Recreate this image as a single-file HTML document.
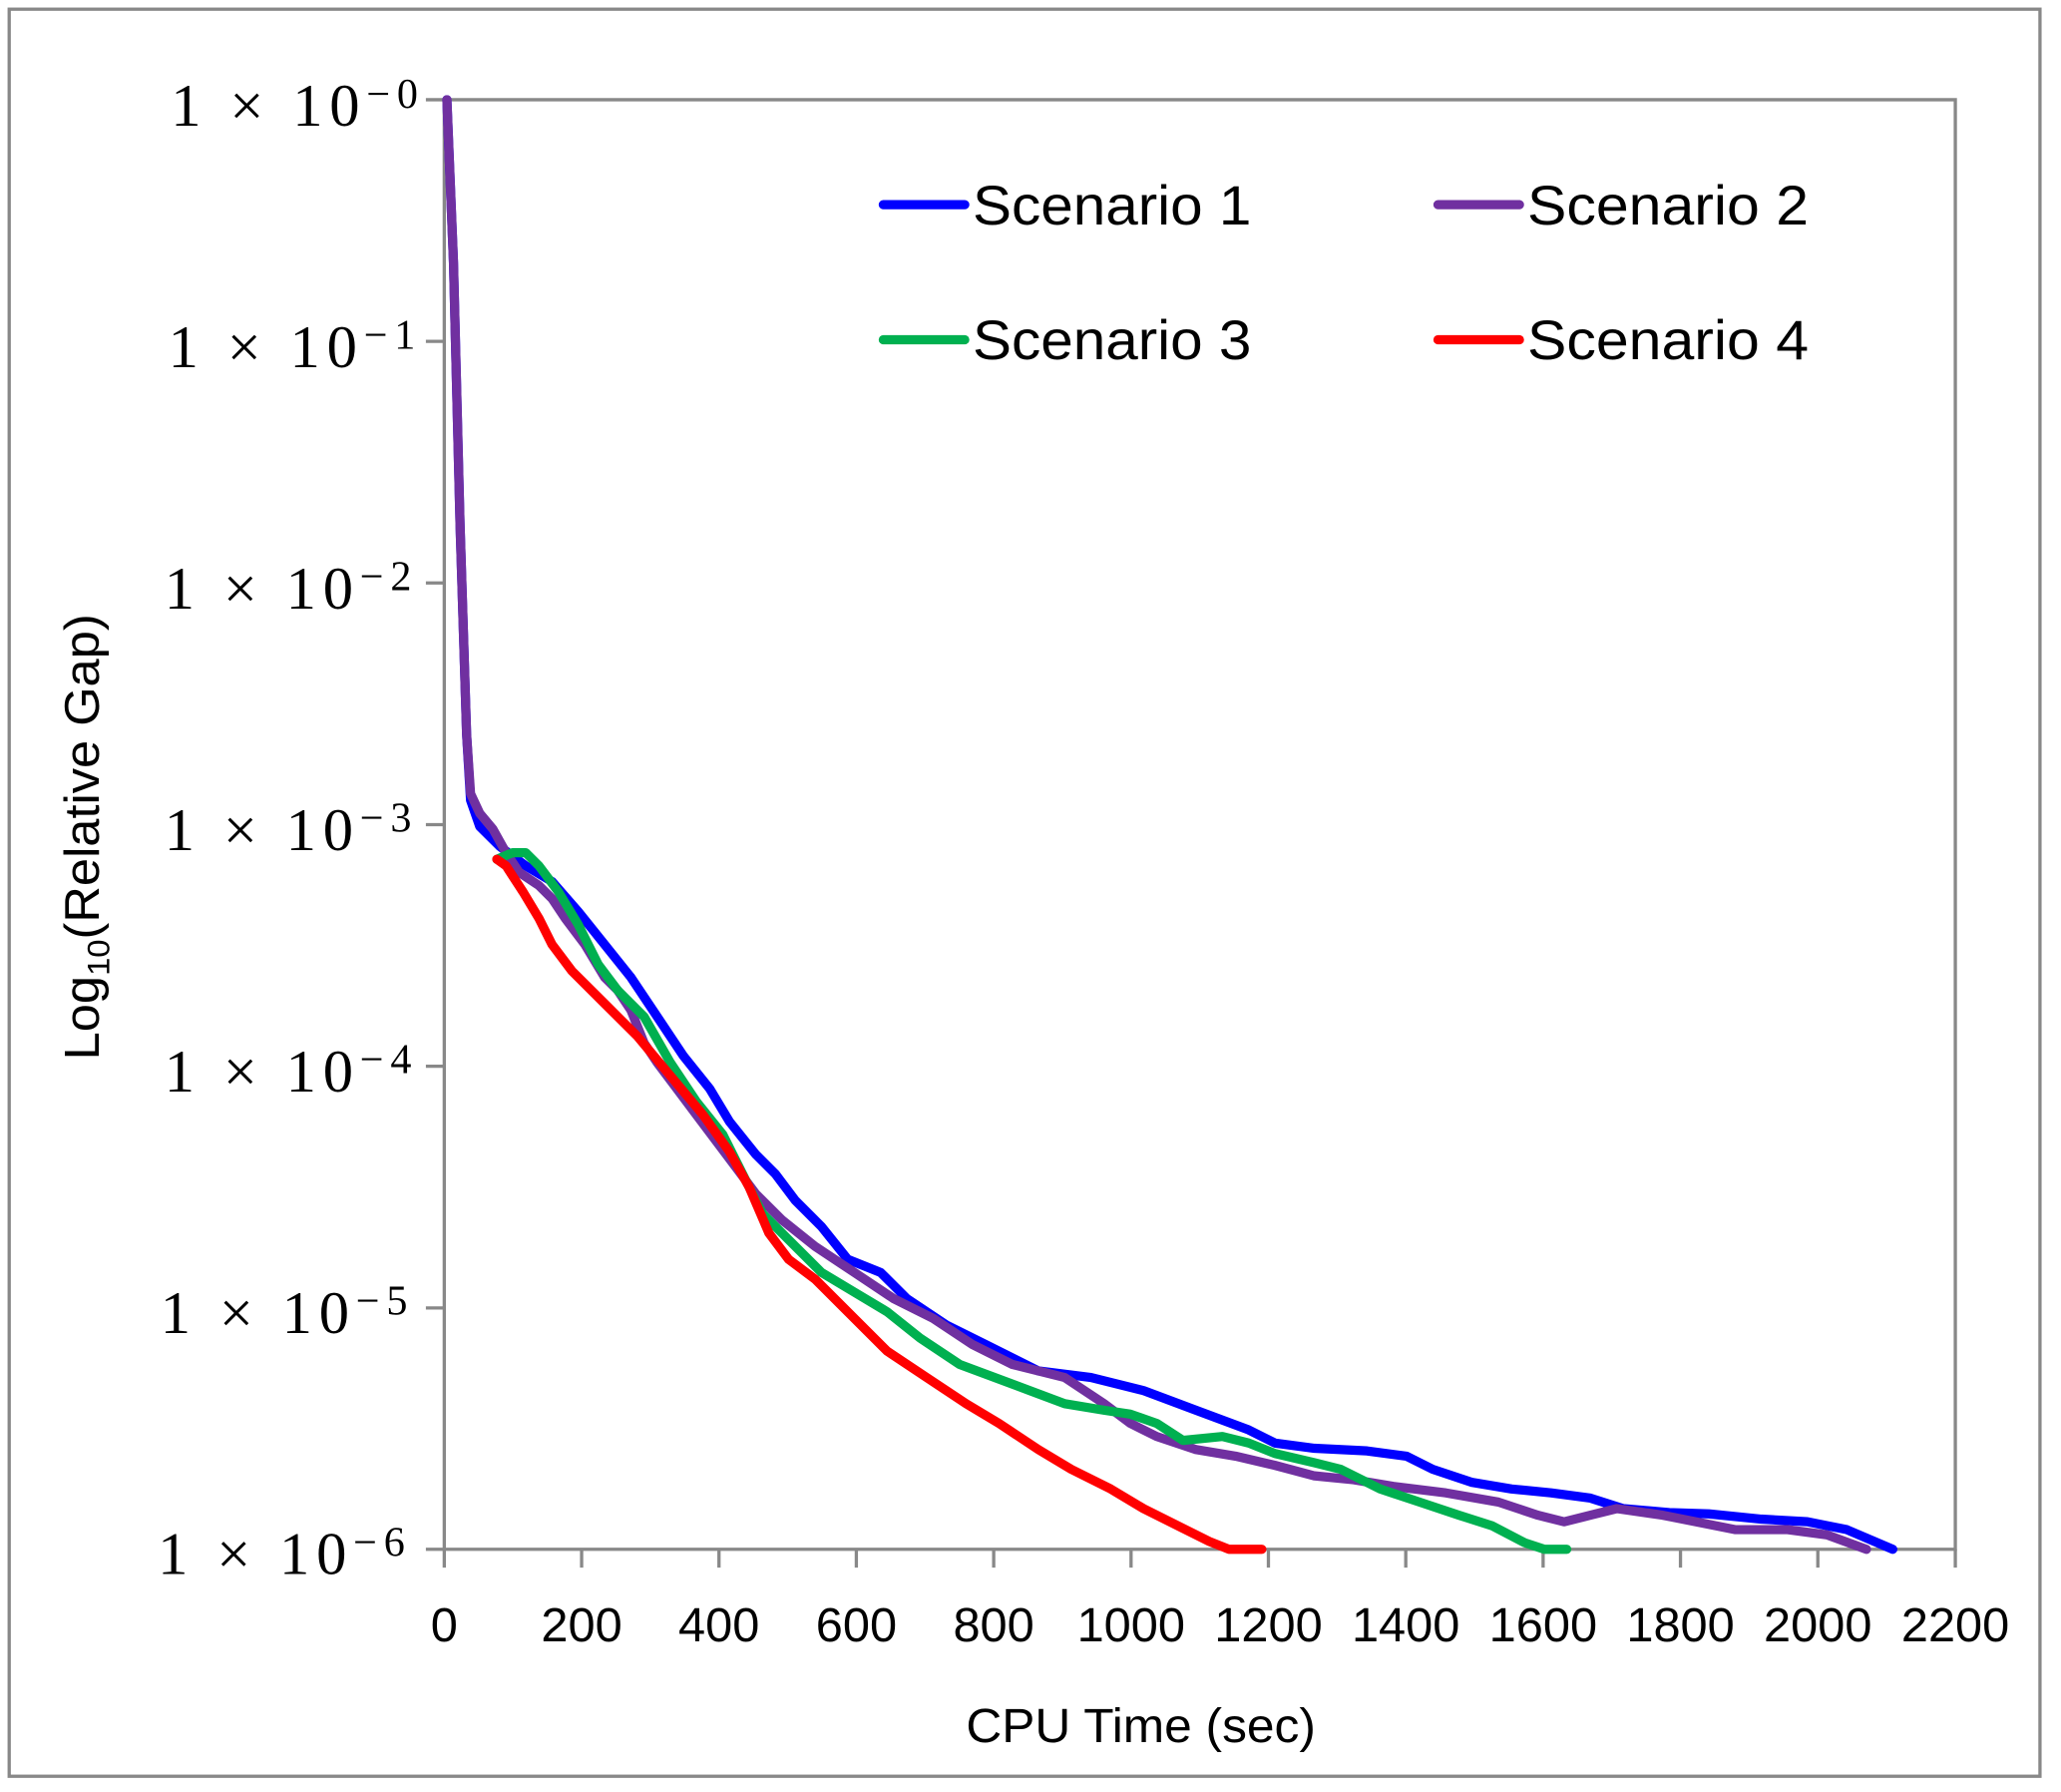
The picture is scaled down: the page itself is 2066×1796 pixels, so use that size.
<!DOCTYPE html>
<html><head><meta charset="utf-8"><style>html,body{margin:0;padding:0;background:#fff;}svg{display:block}</style></head>
<body>
<svg width="2066" height="1796" viewBox="0 0 1568 1366" preserveAspectRatio="none" xmlns="http://www.w3.org/2000/svg">
<rect x="7" y="7" width="1545" height="1347" fill="#fff" stroke="#888" stroke-width="2.5"/>
<g stroke="#888" stroke-width="2.5" fill="none">
<path d="M338 76 H1487.6 V1181 H338 Z"/>
<path d="M324 76H338M324 260.2H338M324 444.4H338M324 628.6H338M324 812.8H338M324 997H338M324 1181H338"/>
<path d="M338 1181V1195M442.5 1181V1195M547 1181V1195M651.5 1181V1195M756 1181V1195M860.5 1181V1195M965 1181V1195M1069.5 1181V1195M1174 1181V1195M1278.5 1181V1195M1383 1181V1195M1487.6 1181V1195"/>
</g>
<g font-family="Liberation Serif, serif" font-size="46" fill="#000" text-anchor="end">
<text x="318" y="96" textLength="188" lengthAdjust="spacing">1 × 10<tspan dy="-14" font-size="32">−0</tspan></text>
<text x="316" y="280" textLength="188" lengthAdjust="spacing">1 × 10<tspan dy="-14" font-size="32">−1</tspan></text>
<text x="313" y="464" textLength="188" lengthAdjust="spacing">1 × 10<tspan dy="-14" font-size="32">−2</tspan></text>
<text x="313" y="648" textLength="188" lengthAdjust="spacing">1 × 10<tspan dy="-14" font-size="32">−3</tspan></text>
<text x="313" y="832" textLength="188" lengthAdjust="spacing">1 × 10<tspan dy="-14" font-size="32">−4</tspan></text>
<text x="310" y="1016" textLength="188" lengthAdjust="spacing">1 × 10<tspan dy="-14" font-size="32">−5</tspan></text>
<text x="308" y="1200" textLength="188" lengthAdjust="spacing">1 × 10<tspan dy="-14" font-size="32">−6</tspan></text>
</g>
<g font-family="Liberation Sans, sans-serif" font-size="37" fill="#000" text-anchor="middle">
<text x="338" y="1251">0</text><text x="442.5" y="1251">200</text><text x="547" y="1251">400</text><text x="651.5" y="1251">600</text><text x="756" y="1251">800</text><text x="860.5" y="1251">1000</text><text x="965" y="1251">1200</text><text x="1069.5" y="1251">1400</text><text x="1174" y="1251">1600</text><text x="1278.5" y="1251">1800</text><text x="1383" y="1251">2000</text><text x="1487.6" y="1251">2200</text>
<text x="868" y="1328" textLength="266" lengthAdjust="spacingAndGlyphs">CPU Time (sec)</text>
<text transform="translate(75,638) rotate(-90)" textLength="340" lengthAdjust="spacingAndGlyphs">Log<tspan font-size="24" dy="8">10</tspan><tspan dy="-8">(Relative Gap)</tspan></text>
</g>
<g fill="none" stroke-width="7" stroke-linecap="round" stroke-linejoin="round">
<path stroke="#0000FF" d="M340 76 L345 200 L350 400 L355 560 L358 610 L365 630 L380 645 L400 660 L420 672 L440 695 L460 720 L480 745 L500 775 L520 805 L540 830 L555 855 L575 880 L590 895 L605 915 L625 935 L645 960 L670 970 L690 990 L720 1010 L750 1025 L790 1045 L830 1050 L870 1060 L910 1075 L950 1090 L970 1100 L1000 1104 L1040 1106 L1070 1110 L1090 1120 L1120 1130 L1150 1135 L1180 1138 L1210 1142 L1235 1150 L1270 1153 L1300 1154 L1340 1158 L1375 1160 L1405 1166 L1440 1181"/>
<path stroke="#7030A0" d="M340 76 L345 200 L350 400 L355 560 L358 605 L365 620 L375 632 L385 650 L395 665 L410 675 L420 685 L430 700 L445 720 L460 745 L470 755 L480 770 L490 795 L500 810 L515 830 L530 850 L545 870 L560 890 L575 910 L595 930 L620 950 L650 970 L680 990 L710 1005 L740 1025 L770 1040 L810 1050 L840 1070 L860 1085 L880 1095 L910 1105 L940 1110 L970 1117 L1000 1125 L1030 1128 L1060 1133 L1100 1138 L1140 1145 L1170 1155 L1190 1160 L1210 1155 L1230 1150 L1265 1155 L1300 1162 L1320 1166 L1360 1166 L1390 1170 L1420 1181"/>
<path stroke="#00B050" d="M378 655 L390 650 L400 650 L410 660 L425 680 L440 705 L455 735 L470 755 L490 775 L510 810 L530 840 L550 865 L565 895 L580 925 L600 945 L625 970 L650 985 L675 1000 L700 1020 L730 1040 L770 1055 L810 1070 L840 1075 L860 1078 L880 1085 L900 1098 L930 1095 L950 1100 L970 1108 L1000 1115 L1020 1120 L1050 1135 L1080 1145 L1110 1155 L1135 1163 L1160 1176 L1175 1181 L1192 1181"/>
<path stroke="#FF0000" d="M378 655 L385 660 L398 680 L410 700 L420 720 L435 740 L460 765 L485 790 L510 820 L535 850 L555 878 L570 905 L585 940 L600 960 L620 975 L650 1005 L675 1030 L705 1050 L735 1070 L760 1085 L790 1105 L815 1120 L845 1135 L870 1150 L900 1165 L920 1175 L935 1181 L960 1181"/>
<path stroke="#0000FF" d="M672 156 H734"/>
<path stroke="#7030A0" d="M1094 156 H1156"/>
<path stroke="#00B050" d="M672 259 H734"/>
<path stroke="#FF0000" d="M1094 259 H1156"/>
</g>
<g font-family="Liberation Sans, sans-serif" font-size="42" fill="#000">
<text x="740" y="171" textLength="212" lengthAdjust="spacingAndGlyphs">Scenario 1</text>
<text x="1162" y="171" textLength="214" lengthAdjust="spacingAndGlyphs">Scenario 2</text>
<text x="740" y="274" textLength="212" lengthAdjust="spacingAndGlyphs">Scenario 3</text>
<text x="1162" y="274" textLength="214" lengthAdjust="spacingAndGlyphs">Scenario 4</text>
</g>
</svg>
</body></html>
